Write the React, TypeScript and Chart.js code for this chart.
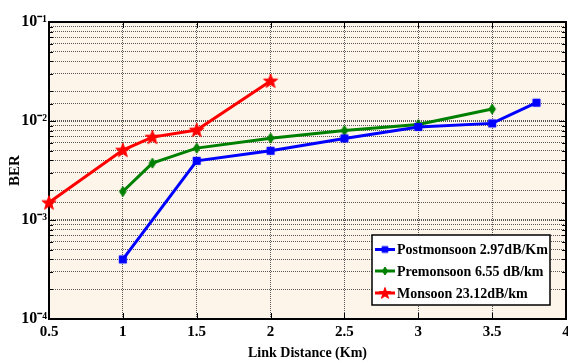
import React, { useEffect, useRef } from "react";
import { Chart, registerables } from "chart.js";
Chart.register(...registerables);

const postDistance = [1, 1.5, 2, 2.5, 3, 3.5, 3.8];
const postBER = [4.0e-4, 3.96e-3, 5.0e-3, 6.67e-3, 8.7e-3, 9.46e-3, 1.53e-2];
const preDistance = [1, 1.2, 1.5, 2, 2.5, 3, 3.5];
const preBER = [1.94e-3, 3.75e-3, 5.32e-3, 6.71e-3, 8.0e-3, 9.2e-3, 1.32e-2];
const monDistance = [0.5, 1, 1.2, 1.5, 2];
const monBER = [1.5e-3, 5.08e-3, 6.88e-3, 8.1e-3, 2.54e-2];

const seriesLabels = ["Postmonsoon 2.97dB/Km", "Premonsoon 6.55 dB/km", "Monsoon 23.12dB/km"];
const seriesColors = ["#0000FF", "#008000", "#FF0000"];
const seriesMarkers = ["square", "diamond", "star"];

const xTickValues = [0.5, 1, 1.5, 2, 2.5, 3, 3.5, 4];
const yDecadeExponents = [-4, -3, -2, -1];
const yDecadeLabels = ["10\u207B\u2074", "10\u207B\u00B3", "10\u207B\u00B2", "10\u207B\u00B9"];
const xTitle = "Link Distance (Km)";
const yTitle = "BER";

const FONT = "'Liberation Serif', 'Times New Roman', serif";

function makeMarker(kind: string, color: string, scale = 1): HTMLCanvasElement {
  const c = document.createElement("canvas");
  const s = Math.round(18 * scale);
  c.width = s;
  c.height = s;
  const ctx = c.getContext("2d")!;
  const m = s / 2;
  ctx.fillStyle = color;
  ctx.strokeStyle = color;
  ctx.lineWidth = 1;
  ctx.beginPath();
  if (kind === "square") {
    const h = 3.6 * scale;
    ctx.rect(m - h, m - h, 2 * h, 2 * h);
  } else if (kind === "diamond") {
    const w = 3.3 * scale, h = 5 * scale;
    ctx.moveTo(m, m - h);
    ctx.lineTo(m + w, m);
    ctx.lineTo(m, m + h);
    ctx.lineTo(m - w, m);
    ctx.closePath();
  } else {
    const R = 7.5 * scale, r = R * 0.4;
    for (let i = 0; i < 10; i++) {
      const rad = i % 2 === 0 ? R : r;
      const a = -Math.PI / 2 + (i * Math.PI) / 5;
      const px = m + rad * Math.cos(a);
      const py = m + 0.5 + rad * Math.sin(a);
      if (i === 0) ctx.moveTo(px, py);
      else ctx.lineTo(px, py);
    }
    ctx.closePath();
  }
  ctx.fill();
  ctx.stroke();
  return c;
}

function isDecade(v: number) {
  const l = Math.log10(v);
  return Math.abs(l - Math.round(l)) < 1e-6;
}

export default function App() {
  const ref = useRef<HTMLCanvasElement | null>(null);

  useEffect(() => {
    if (!ref.current) return;
    const markers = seriesMarkers.map((k, i) => makeMarker(k, seriesColors[i]));
    const legendMarkers = seriesMarkers.map((k, i) => makeMarker(k, seriesColors[i], 0.8));

    const mk = (xs: number[], ys: number[]) => xs.map((x, i) => ({ x, y: ys[i] }));
    const dataSets = [mk(postDistance, postBER), mk(preDistance, preBER), mk(monDistance, monBER)];

    const framePlugin = {
      id: "frame",
      beforeDraw(chart: any) {
        const { ctx, chartArea: a } = chart;
        ctx.save();
        ctx.fillStyle = "#FDF5EA";
        ctx.fillRect(a.left, a.top, a.right - a.left, a.bottom - a.top);
        ctx.restore();
      },
      beforeDatasetsDraw(chart: any) {
        const { ctx, chartArea: a, scales } = chart;
        ctx.save();
        ctx.strokeStyle = "#000";
        ctx.lineWidth = 1;
        scales.y.ticks.forEach((t: any) => {
          const py = Math.round(scales.y.getPixelForValue(t.value)) + 0.5;
          const len = isDecade(t.value) ? 7 : 4;
          ctx.beginPath();
          ctx.moveTo(a.left, py);
          ctx.lineTo(a.left + len, py);
          ctx.moveTo(a.right, py);
          ctx.lineTo(a.right - len, py);
          ctx.stroke();
        });
        xTickValues.forEach((v) => {
          const px = Math.round(scales.x.getPixelForValue(v)) + 0.5;
          ctx.beginPath();
          ctx.moveTo(px, a.bottom);
          ctx.lineTo(px, a.bottom - 6);
          ctx.moveTo(px, a.top);
          ctx.lineTo(px, a.top + 6);
          ctx.stroke();
        });
        ctx.lineWidth = 2;
        ctx.strokeRect(a.left, a.top, a.right - a.left, a.bottom - a.top);
        ctx.restore();
      },
      afterDraw(chart: any) {
        const { ctx } = chart;
        const bx = 372, by = 235, bw = 178, bh = 70;
        ctx.save();
        ctx.fillStyle = "#FFFFFF";
        ctx.fillRect(bx, by, bw, bh);
        ctx.strokeStyle = "#000";
        ctx.lineWidth = 1.5;
        ctx.strokeRect(bx, by, bw, bh);
        ctx.font = `bold 14px ${FONT}`;
        ctx.textBaseline = "middle";
        ctx.textAlign = "left";
        const rows = [249.5, 271, 293];
        seriesLabels.forEach((lab, i) => {
          const y = rows[i];
          ctx.strokeStyle = seriesColors[i];
          ctx.lineWidth = 3;
          ctx.beginPath();
          ctx.moveTo(375, y);
          ctx.lineTo(395, y);
          ctx.stroke();
          const m = legendMarkers[i];
          ctx.drawImage(m, 385 - m.width / 2, y - m.height / 2);
          ctx.fillStyle = "#000";
          ctx.fillText(lab, 397, y + 1);
        });
        ctx.restore();
      },
    };

    const chart = new Chart(ref.current, {
      type: "line",
      data: {
        datasets: dataSets.map((d, i) => ({
          label: seriesLabels[i],
          data: d,
          borderColor: seriesColors[i],
          backgroundColor: seriesColors[i],
          borderWidth: 3,
          pointStyle: markers[i] as any,
          pointRadius: 6,
          clip: false as any,
          tension: 0,
        })),
      },
      options: {
        animation: false,
        responsive: false,
        layout: { autoPadding: false, padding: { top: 22, right: 2, left: 0, bottom: 0 } },
        plugins: { legend: { display: false }, tooltip: { enabled: false } },
        scales: {
          x: {
            type: "linear",
            min: 0.5,
            max: 4,
            afterBuildTicks(scale: any) {
              scale.ticks = xTickValues.map((v) => ({ value: v }));
            },
            afterFit(scale: any) {
              scale.height = 44;
              scale.paddingLeft = 0;
              scale.paddingRight = 0;
            },
            ticks: {
              color: "#000",
              font: { family: FONT, weight: "bold", size: 15 },
              padding: 4,
              maxRotation: 0,
              autoSkip: false,
              callback: (v: any) => String(v),
            },
            grid: { color: "rgba(60,60,60,0.85)", lineWidth: 1, drawTicks: false },
            border: { display: false, dash: [1, 1] },
            title: {
              display: true,
              text: xTitle,
              color: "#000",
              font: { family: FONT, weight: "bold", size: 14 },
              padding: { top: 0, bottom: 1 },
            },
          },
          y: {
            type: "logarithmic",
            min: 1e-4,
            max: 1e-1,
            afterFit(scale: any) {
              scale.width = 49;
              scale.paddingTop = 0;
              scale.paddingBottom = 0;
            },
            ticks: {
              color: "#000",
              font: { family: FONT, weight: "bold", size: 16 },
              padding: 2,
              autoSkip: false,
              callback: (v: any) => {
                const e = Math.round(Math.log10(v));
                if (!isDecade(v)) return "";
                const idx = yDecadeExponents.indexOf(e);
                return idx >= 0 ? yDecadeLabels[idx] : "";
              },
            },
            grid: {
              color: "rgba(60,60,60,0.85)",
              lineWidth: (c: any) => (c.tick && isDecade(c.tick.value) ? 2 : 1),
              drawTicks: false,
            },
            border: { display: false, dash: [1, 1] },
            title: {
              display: true,
              text: yTitle,
              color: "#000",
              font: { family: FONT, weight: "bold", size: 15 },
              padding: { top: 6, bottom: 0 },
            },
          },
        },
      },
      plugins: [framePlugin],
    } as any);
    return () => chart.destroy();
  }, []);

  return (
    <div style={{ position: "fixed", left: 0, top: 0, width: 568, height: 363, background: "#fff" }}>
      <canvas ref={ref} width={568} height={363} style={{ display: "block" }} />
    </div>
  );
}
